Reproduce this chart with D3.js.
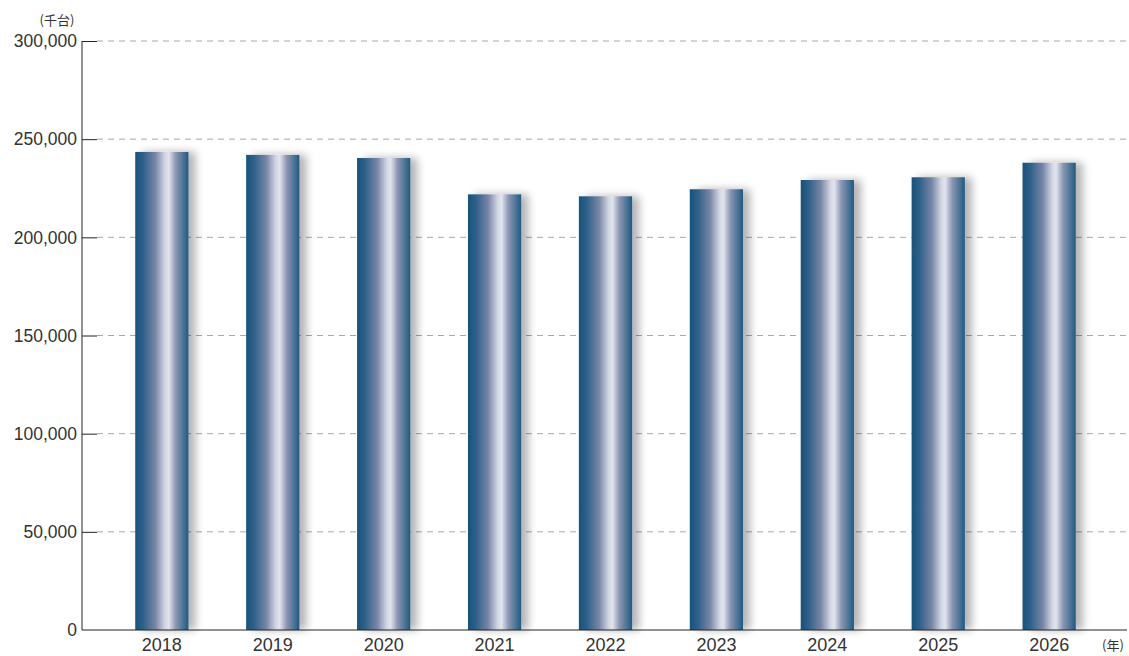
<!DOCTYPE html>
<html>
<head>
<meta charset="utf-8">
<script src="https://cdn.jsdelivr.net/npm/d3@7"></script>
<style>
  html, body { margin: 0; padding: 0; background: #fff; }
  svg { display: block; }
</style>
</head>
<body>
<svg id="chart"></svg>
<script>
// Data (thousand units)
const years = ["2018", "2019", "2020", "2021", "2022", "2023", "2024", "2025", "2026"];
const units = [243500, 242000, 240400, 221900, 220900, 224500, 229200, 230600, 238000];
const yTicks = [0, 50000, 100000, 150000, 200000, 250000, 300000];

const width = 1129;
const height = 656;
const marginTop = 41;
const marginRight = 0;
const marginBottom = 26;
const marginLeft = 82;

const svg = d3.select("#chart")
  .attr("width", width)
  .attr("height", height)
  .attr("viewBox", [0, 0, width, height])
  .style("font-family", "'Liberation Sans', Arial, sans-serif");

const x = d3.scaleBand(years, [marginLeft, width - marginRight])
  .paddingInner(0.52)
  .paddingOuter(0.48);

const y = d3.scaleLinear([0, 300000], [height - marginBottom, marginTop]);

const defs = svg.append("defs");

// Metallic bar gradient
const grad = defs.append("linearGradient")
  .attr("id", "barGrad")
  .attr("x1", "0%").attr("x2", "100%")
  .attr("y1", "0%").attr("y2", "0%");
[
  [0, "#17537c"],
  [0.14, "#2c5f88"],
  [0.38, "#7886a6"],
  [0.56, "#d3d7e4"],
  [0.63, "#e2e4ee"],
  [0.76, "#8b97b3"],
  [1, "#1f5a82"]
].forEach(([o, c]) => grad.append("stop").attr("offset", o).attr("stop-color", c));

// Soft shadow to the right of each bar
const shadow = defs.append("filter")
  .attr("id", "shadow")
  .attr("x", "-30%").attr("y", "-10%")
  .attr("width", "180%").attr("height", "120%");
shadow.append("feGaussianBlur").attr("in", "SourceAlpha").attr("stdDeviation", 4);
shadow.append("feOffset").attr("dx", 7).attr("dy", 0).attr("result", "off");
shadow.append("feComponentTransfer").append("feFuncA").attr("type", "linear").attr("slope", 0.3);
const merge = shadow.append("feMerge");
merge.append("feMergeNode");
merge.append("feMergeNode").attr("in", "SourceGraphic");

// Grid lines (dashed)
svg.append("g")
  .selectAll("line")
  .data(yTicks.filter(d => d > 0))
  .join("line")
  .attr("x1", marginLeft + 15)
  .attr("x2", width - 2)
  .attr("y1", d => y(d))
  .attr("y2", d => y(d))
  .attr("stroke", "#a8a8a8")
  .attr("stroke-width", 1)
  .attr("stroke-dasharray", "6,5");

// Bars
svg.append("g")
  .selectAll("rect")
  .data(years)
  .join("rect")
  .attr("x", d => x(d))
  .attr("y", (d, i) => y(units[i]))
  .attr("width", x.bandwidth())
  .attr("height", (d, i) => y(0) - y(units[i]))
  .attr("fill", "url(#barGrad)")
  .attr("filter", "url(#shadow)");

// Y axis
svg.append("g")
  .attr("transform", `translate(${marginLeft},0)`)
  .call(d3.axisRight(y).tickValues(yTicks).tickSize(15).tickFormat(() => ""))
  .call(g => g.select(".domain").attr("stroke", "#222").attr("d", `M0,${y(0)}V${y(300000)}`))
  .call(g => g.selectAll(".tick line").attr("stroke", "#222"))
  .call(g => g.selectAll(".tick").filter(d => d === 0).select("line").remove());

svg.append("g")
  .selectAll("text")
  .data(yTicks)
  .join("text")
  .attr("x", marginLeft - 5)
  .attr("y", d => y(d))
  .attr("dy", "0.36em")
  .attr("text-anchor", "end")
  .attr("font-size", 17.5)
  .attr("fill", "#333")
  .text(d => d3.format(",")(d));

// X axis
svg.append("g")
  .attr("transform", `translate(0,${y(0)})`)
  .call(d3.axisBottom(x).tickSize(0).tickSizeOuter(0))
  .call(g => g.select(".domain").attr("stroke", "#222").attr("d", `M${marginLeft},0H${width - 2}`))
  .call(g => g.selectAll("text")
    .attr("font-size", 18)
    .attr("font-family", "'Liberation Sans', Arial, sans-serif")
    .attr("fill", "#333")
    .attr("dy", null)
    .attr("y", 21));

// Unit labels
svg.append("text")
  .attr("x", 57)
  .attr("y", 25)
  .attr("text-anchor", "middle")
  .attr("font-size", 13)
  .attr("font-family", "'Noto Sans CJK JP', sans-serif")
  .attr("fill", "#333")
  .text("(千台)");

svg.append("text")
  .attr("x", 1113)
  .attr("y", 650)
  .attr("text-anchor", "middle")
  .attr("font-size", 13)
  .attr("font-family", "'Noto Sans CJK JP', sans-serif")
  .attr("fill", "#333")
  .text("(年)");
</script>
</body>
</html>
